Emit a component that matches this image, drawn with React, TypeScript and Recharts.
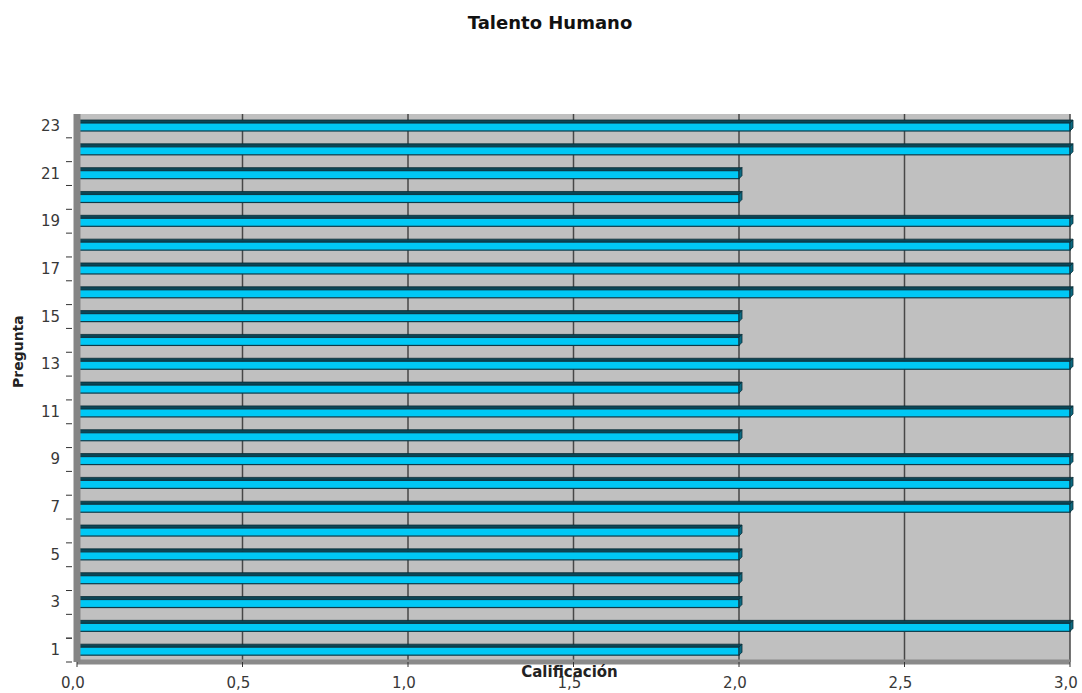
import { BarChart, Bar, XAxis, YAxis, CartesianGrid } from 'recharts';

const preguntas = [1, 2, 3, 4, 5, 6, 7, 8, 9, 10, 11, 12, 13, 14, 15, 16, 17, 18, 19, 20, 21, 22, 23];
const calificacion = [2, 3, 2, 2, 2, 2, 3, 3, 3, 2, 3, 2, 3, 2, 2, 3, 3, 3, 3, 2, 2, 3, 3];
const xTicks = [0, 0.5, 1, 1.5, 2, 2.5, 3];

const data = preguntas.map((p, i) => ({ pregunta: p, valor: calificacion[i] }));

const font = '"DejaVu Sans", Verdana, sans-serif';
const BAND = 548 / preguntas.length;

// Excel-style flat 3D bar: front face, darker top strip and end cap
function Bar3D(props: any) {
  const { x, y, width, height } = props;
  const d = 3;
  return (
    <g>
      <polygon
        points={`${x + d},${y} ${x + width + d},${y} ${x + width},${y + d} ${x},${y + d}`}
        fill="#0b4656"
        stroke="#0a2c36"
        strokeWidth={0.8}
      />
      <rect x={x} y={y + d} width={width} height={height - d} fill="#00c8f5" stroke="#0d3a48" strokeWidth={1.2} />
      <polygon
        points={`${x + width},${y + d} ${x + width + d},${y} ${x + width + d},${y + height - d} ${x + width},${y + height}`}
        fill="#0a6a82"
        stroke="#0a2c36"
        strokeWidth={0.8}
      />
    </g>
  );
}

// odd labels only; tick marks sit on the category boundaries
function PreguntaTick(props: any) {
  const { x, y, payload, index } = props;
  const v = Number(payload.value);
  return (
    <g>
      {v % 2 === 1 && (
        <text x={x - 17} y={y} dy={5} textAnchor="end" fill="#383838" fontSize={15} fontFamily={font}>
          {v}
        </text>
      )}
      <line x1={x - 11} x2={x - 5} y1={y + BAND / 2} y2={y + BAND / 2} stroke="#333" strokeWidth={1} />
      {index === 0 && <line x1={x - 11} x2={x - 5} y1={y - BAND / 2} y2={y - BAND / 2} stroke="#333" strokeWidth={1} />}
    </g>
  );
}

export default function App() {
  return (
    <div style={{ position: 'absolute', left: 0, top: 0, width: 1082, height: 693, background: '#fff' }}>
      <div
        style={{
          position: 'absolute',
          left: 0,
          width: 1100,
          top: 12,
          textAlign: 'center',
          fontFamily: font,
          fontWeight: 'bold',
          fontSize: 18,
          color: '#111',
        }}
      >
        Talento Humano
      </div>
      <BarChart
        width={1082}
        height={693}
        data={data}
        layout="vertical"
        margin={{ top: 114, right: 12, bottom: 0, left: 5 }}
        barCategoryGap={0}
      >
        <CartesianGrid horizontal={false} fill="#c0c0c0" stroke="#474747" strokeWidth={1.5} verticalValues={xTicks.slice(1)} />
        <XAxis
          type="number"
          domain={[0, 3]}
          ticks={xTicks}
          interval={0}
          height={31}
          tickFormatter={(v: number) => v.toFixed(1).replace('.', ',')}
          tick={{ fill: '#383838', fontSize: 15, fontFamily: font, dx: -4 }}
          tickSize={5}
          tickMargin={10}
          tickLine={{ stroke: '#333' }}
          axisLine={{ stroke: '#8a8a8a', strokeWidth: 5 }}
          label={{ value: 'Calificación', position: 'insideTop', offset: 4, dx: -4, fill: '#222', fontSize: 15, fontWeight: 'bold', fontFamily: font }}
        />
        <YAxis
          type="category"
          dataKey="pregunta"
          reversed
          width={72}
          interval={0}
          tickSize={0}
          tickMargin={0}
          tickLine={false}
          tick={<PreguntaTick />}
          axisLine={{ stroke: '#858585', strokeWidth: 7 }}
          label={{ value: 'Pregunta', angle: -90, position: 'insideLeft', offset: 13, fill: '#222', fontSize: 14, fontWeight: 'bold', fontFamily: font }}
        />
        <Bar dataKey="valor" barSize={11} shape={<Bar3D />} isAnimationActive={false} />
      </BarChart>
    </div>
  );
}
